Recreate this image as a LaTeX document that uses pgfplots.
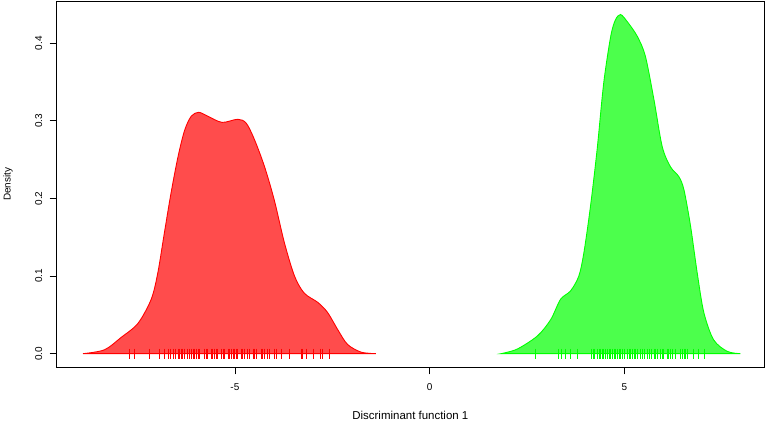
\documentclass[border=0pt]{standalone}
\usepackage{pgfplots}
\pgfplotsset{compat=1.18}
\usepackage{fontspec}
\setmainfont{Liberation Sans}
\begin{document}
\begin{tikzpicture}
\begin{axis}[
  at={(0,0)}, anchor=south west,
  scale only axis, width=709.5pt, height=367.3pt,
  xmin=-9.58, xmax=8.59, ymin=-0.0176, ymax=0.4544,
  axis line style={line width=0.8pt, black},
  tick style={line width=0.8pt, black},
  tick align=outside, major tick length=7pt,
  xtick pos=lower, ytick pos=left,
  xtick={-5,0,5}, xticklabels={-5,0,5},
  ytick={0,0.1,0.2,0.3,0.4}, yticklabels={0.0,0.1,0.2,0.3,0.4},
  /pgf/number format/assume math mode=true,
  ticklabel style={font=\fontsize{10}{12}\selectfont},
  xticklabel style={anchor=center, yshift=-13pt},
  yticklabel style={rotate=90, anchor=center, yshift=11pt},
  xlabel={Discriminant function 1},
  ylabel={Density},
  xlabel style={font=\fontsize{11.5}{13}\selectfont, at={(axis description cs:0.5,0)}, anchor=center, yshift=-48pt},
  ylabel style={font=\fontsize{10}{12}\selectfont, at={(axis description cs:0,0.5)}, anchor=center, yshift=48.7pt},
  clip=false,
]
\addplot[draw=red, line width=0.9pt, fill=red, fill opacity=0.7, smooth, tension=0.5] coordinates {
(-8.90,0) (-8.35,0.005) (-7.92,0.021) (-7.49,0.039) (-7.15,0.070) (-6.98,0.104) (-6.81,0.156) (-6.64,0.207) (-6.46,0.254) (-6.29,0.288) (-6.12,0.306) (-5.93,0.311) (-5.70,0.306) (-5.33,0.298) (-4.93,0.302) (-4.71,0.297) (-4.50,0.276) (-4.24,0.241) (-3.99,0.198) (-3.73,0.143) (-3.47,0.100) (-3.22,0.078) (-2.87,0.066) (-2.62,0.053) (-2.36,0.031) (-2.11,0.012) (-1.76,0.002) (-1.38,0)
} \closedcycle;
\addplot[draw=green, line width=0.9pt, fill=green, fill opacity=0.7, smooth, tension=0.5] coordinates {
(1.83,0) (2.25,0.006) (2.77,0.023) (3.11,0.044) (3.36,0.070) (3.62,0.081) (3.83,0.100) (3.96,0.130) (4.13,0.190) (4.30,0.263) (4.47,0.349) (4.65,0.409) (4.77,0.430) (4.90,0.437) (5.07,0.428) (5.33,0.409) (5.54,0.383) (5.76,0.327) (5.97,0.267) (6.18,0.241) (6.40,0.228) (6.53,0.211) (6.70,0.164) (6.87,0.104) (7.04,0.053) (7.29,0.018) (7.64,0.003) (7.98,0)
} \closedcycle;
\addplot[only marks, mark=|, mark size=5.35pt, mark options={line width=0.6pt, draw=red}] coordinates {
(-7.72,-0.0005) (-7.58,-0.0005) (-7.19,-0.0005) (-6.94,-0.0005) (-6.81,-0.0005) (-6.72,-0.0005) (-6.65,-0.0005) (-6.58,-0.0005) (-6.53,-0.0005) (-6.45,-0.0005) (-6.42,-0.0005) (-6.38,-0.0005) (-6.35,-0.0005) (-6.31,-0.0005) (-6.21,-0.0005) (-6.16,-0.0005) (-6.12,-0.0005) (-6.08,-0.0005) (-6.04,-0.0005) (-6.00,-0.0005) (-5.95,-0.0005) (-5.91,-0.0005) (-5.78,-0.0005) (-5.74,-0.0005) (-5.70,-0.0005) (-5.61,-0.0005) (-5.57,-0.0005) (-5.53,-0.0005) (-5.48,-0.0005) (-5.44,-0.0005) (-5.35,-0.0005) (-5.31,-0.0005) (-5.27,-0.0005) (-5.18,-0.0005) (-5.14,-0.0005) (-5.10,-0.0005) (-5.05,-0.0005) (-5.01,-0.0005) (-4.97,-0.0005) (-4.93,-0.0005) (-4.84,-0.0005) (-4.80,-0.0005) (-4.76,-0.0005) (-4.67,-0.0005) (-4.63,-0.0005) (-4.54,-0.0005) (-4.50,-0.0005) (-4.46,-0.0005) (-4.33,-0.0005) (-4.29,-0.0005) (-4.24,-0.0005) (-4.16,-0.0005) (-4.11,-0.0005) (-3.99,-0.0005) (-3.94,-0.0005) (-3.82,-0.0005) (-3.60,-0.0005) (-3.30,-0.0005) (-3.26,-0.0005) (-3.17,-0.0005) (-2.99,-0.0005) (-2.81,-0.0005) (-2.75,-0.0005) (-2.58,-0.0005)
};
\addplot[only marks, mark=|, mark size=5.35pt, mark options={line width=0.6pt, draw=green}] coordinates {
(2.72,-0.0005) (3.30,-0.0005) (3.38,-0.0005) (3.49,-0.0005) (3.62,-0.0005) (3.79,-0.0005) (4.16,-0.0005) (4.20,-0.0005) (4.24,-0.0005) (4.30,-0.0005) (4.35,-0.0005) (4.39,-0.0005) (4.43,-0.0005) (4.47,-0.0005) (4.52,-0.0005) (4.56,-0.0005) (4.60,-0.0005) (4.65,-0.0005) (4.69,-0.0005) (4.73,-0.0005) (4.77,-0.0005) (4.82,-0.0005) (4.86,-0.0005) (4.90,-0.0005) (4.95,-0.0005) (4.99,-0.0005) (5.07,-0.0005) (5.12,-0.0005) (5.16,-0.0005) (5.20,-0.0005) (5.25,-0.0005) (5.29,-0.0005) (5.33,-0.0005) (5.42,-0.0005) (5.46,-0.0005) (5.50,-0.0005) (5.59,-0.0005) (5.63,-0.0005) (5.68,-0.0005) (5.76,-0.0005) (5.80,-0.0005) (5.85,-0.0005) (5.93,-0.0005) (5.97,-0.0005) (6.01,-0.0005) (6.10,-0.0005) (6.14,-0.0005) (6.18,-0.0005) (6.23,-0.0005) (6.31,-0.0005) (6.44,-0.0005) (6.48,-0.0005) (6.53,-0.0005) (6.57,-0.0005) (6.61,-0.0005) (6.78,-0.0005) (6.91,-0.0005) (7.04,-0.0005)
};
\end{axis}
\path (-54.7pt,-54.7pt) rectangle ++(767pt,423pt);
\end{tikzpicture}
\end{document}
